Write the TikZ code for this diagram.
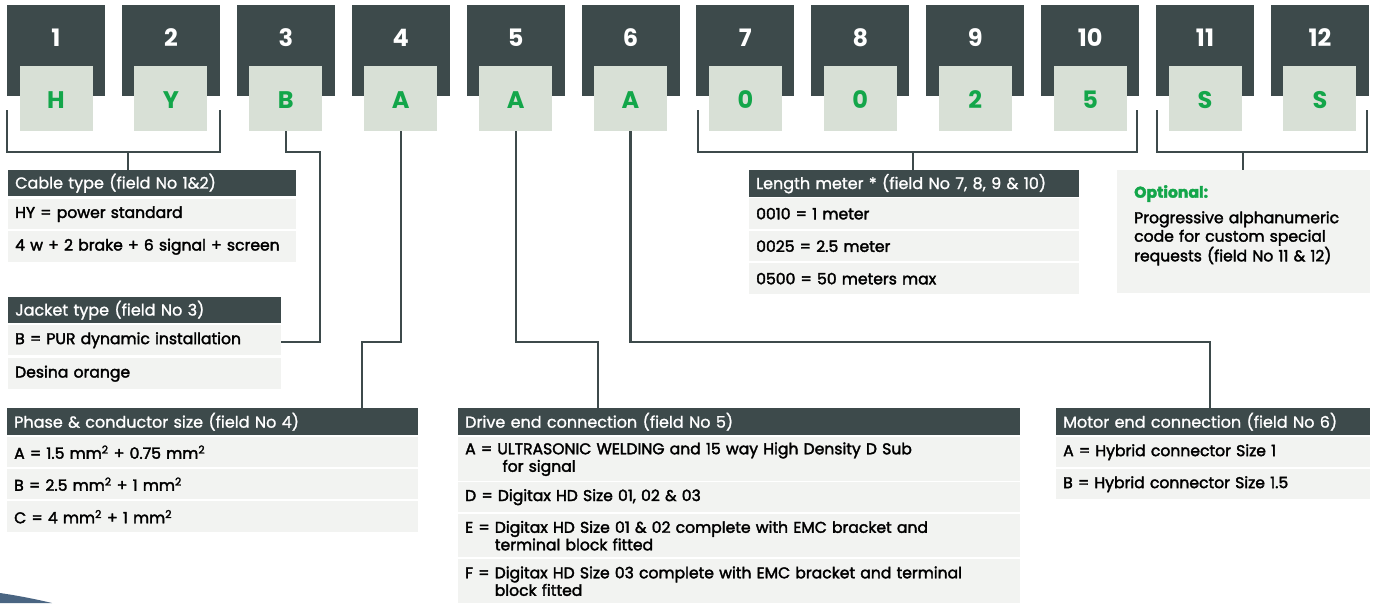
\documentclass[tikz,border=0pt]{standalone}
\usepackage{fontspec}
\setmainfont{Poppins}
\newfontfamily\medfont[RawFeature={embolden=2.2}]{Poppins}
\newfontfamily\hdrfont[RawFeature={embolden=1.2}]{Poppins}
\definecolor{dark}{HTML}{3D4A4B}
\definecolor{lbox}{HTML}{D8E0D6}
\definecolor{grn}{HTML}{13A64A}
\definecolor{rowbg}{HTML}{F2F3F1}
\definecolor{swoosh}{HTML}{4A6582}
\tikzset{
 darkbox/.style={fill=dark, draw=none, minimum width=98pt, minimum height=91pt, inner sep=0pt},
 lightbox/.style={fill=lbox, minimum width=73pt, minimum height=65pt, inner sep=0pt},
 lettxt/.style={text=grn, font=\fontsize{24}{24}\selectfont\bfseries, inner sep=0pt},
 numtxt/.style={text=white, font=\fontsize{24}{24}\selectfont\bfseries, inner sep=0pt},
 hdr/.style={fill=dark, text=white, anchor=north west, inner xsep=7pt, inner ysep=0pt, minimum height=27pt, text width=#1, align=left, font=\hdrfont\fontsize{16}{17.5}\selectfont},
 row/.style={fill=rowbg, text=black, anchor=north west, inner xsep=7pt, inner ysep=0pt, minimum height=30pt, text width=#1, align=left, font=\medfont\fontsize{15.6}{17.5}\selectfont},
 conn/.style={draw=dark, line width=2.2pt},
}
\begin{document}
\begin{tikzpicture}[x=1pt,y=-1pt]
\useasboundingbox (0,0) rectangle (1375,603);
\fill[white] (0,0) rectangle (1375,603);
% code boxes
\foreach \i/\l in {1/H,2/Y,3/B,4/A,5/A,6/A,7/0,8/0,9/2,10/5,11/S,12/S} {
  \pgfmathsetmacro\xc{56+114.9*(\i-1)}
  \node[darkbox] (d\i) at (\xc,50.5) {};
  \node[numtxt] (n\i) at (\xc,38) {\i};
  \node[lightbox] (l\i) at (\xc,98.5) {};
  \node[lettxt] (t\i) at (\xc,100) {\l};
}
% Cable type
\node[hdr=274pt, minimum height=26pt] (cable) at (8,170) {Cable type (field No 1\&2)};
\node[row=274pt] (cr1) at (8,199) {HY = power standard};
\node[row=274pt, minimum height=31pt] (cr2) at (8,231) {4 w + 2 brake + 6 signal + screen};
% Jacket type
\node[hdr=259pt, minimum height=26pt] (jacket) at (8,297) {Jacket type (field No 3)};
\node[row=259pt] (jr1) at (8,325) {B = PUR dynamic installation};
\node[row=259pt, minimum height=31pt] (jr2) at (8,358) {Desina orange};
% Phase
\node[hdr=397pt] (phase) at (7,408) {Phase \& conductor size (field No 4)};
\node[row=397pt] (pr1) at (7,437) {A = 1.5 mm\textsuperscript{2} + 0.75 mm\textsuperscript{2}};
\node[row=397pt] (pr2) at (7,469) {B = 2.5 mm\textsuperscript{2} + 1 mm\textsuperscript{2}};
\node[row=397pt, minimum height=31pt] (pr3) at (7,501) {C = 4 mm\textsuperscript{2} + 1 mm\textsuperscript{2}};
% Length
\node[hdr=316pt] (length) at (749,170) {Length meter * (field No 7, 8, 9 \& 10)};
\node[row=316pt, minimum height=31pt] (lr1) at (749,198) {0010 = 1 meter};
\node[row=316pt] (lr2) at (749,231) {0025 = 2.5 meter};
\node[row=316pt, minimum height=31pt] (lr3) at (749,263) {0500 = 50 meters max};
% Optional
\node[fill=rowbg, anchor=north west, minimum width=253pt, minimum height=123pt, inner sep=0pt] (opt) at (1117,170) {};
\node[anchor=north west, inner sep=0pt, text width=235pt, align=left, font=\medfont\fontsize{15.6}{18.5}\selectfont] (opttxt) at ([xshift=17pt,yshift=-15pt]opt.north west)
  {{\color{grn}\bfseries Optional:}\\[7pt] Progressive alphanumeric\\ code for custom special\\ requests (field No 11 \& 12)};
% Drive end
\node[hdr=548pt] (drive) at (458,408) {Drive end connection (field No 5)};
\node[row=548pt, minimum height=44pt] (dr1) at (458,437) {A = ULTRASONIC WELDING and 15 way High Density D Sub\\\phantom{A = }\ for signal};
\node[row=548pt] (dr2) at (458,482) {D = Digitax HD Size 01, 02 \& 03};
\node[row=548pt, minimum height=43pt] (dr3) at (458,514) {E = Digitax HD Size 01 \& 02 complete with EMC bracket and\\\phantom{E = }terminal block fitted};
\node[row=548pt, minimum height=44pt] (dr4) at (458,559) {F = Digitax HD Size 03 complete with EMC bracket and terminal\\\phantom{F = }block fitted};
% Motor end
\node[hdr=300pt] (motor) at (1056,408) {Motor end connection (field No 6)};
\node[row=300pt] (mr1) at (1056,437) {A = Hybrid connector Size 1};
\node[row=300pt] (mr2) at (1056,469) {B = Hybrid connector Size 1.5};
% bracket coordinates
\coordinate (b12l) at (7,110);
\coordinate (b12r) at (220,110);
\coordinate (b12m) at (128,152);
\coordinate (b710l) at (698,110);
\coordinate (b710r) at (1137,110);
\coordinate (b710m) at (913,152);
\coordinate (b1112l) at (1157,110);
\coordinate (b1112r) at (1367,110);
\coordinate (b1112m) at (1243,152);
\coordinate (c3) at (320,152);
\coordinate (c4) at (362,342);
\coordinate (c5) at (598,342);
\coordinate (c6) at (1210,342);
% connectors
\draw[conn] (b12l) |- (b12m) -| (b12r);
\draw[conn] (b12m) -- (b12m |- cable.north);
\draw[conn] (b710l) |- (b710m) -| (b710r);
\draw[conn] (b710m) -- (b710m |- length.north);
\draw[conn] (b1112l) |- (b1112m) -| (b1112r);
\draw[conn] (b1112m) -- (b1112m |- opt.north);
\draw[conn] (l3.south) |- (c3) |- ([yshift=-2pt]jr1.east);
\draw[conn] (l4.south) |- (c4) -- (c4 |- phase.north);
\draw[conn] (l5.south) |- (c5) -- (c5 |- drive.north);
\draw[conn] (l6.south) |- (c6) -- (c6 |- motor.north);
% swoosh
\fill[swoosh] (0,593) .. controls (20,596) and (35,599) .. (52,603) -- (0,603) -- cycle;
\end{tikzpicture}
\end{document}
